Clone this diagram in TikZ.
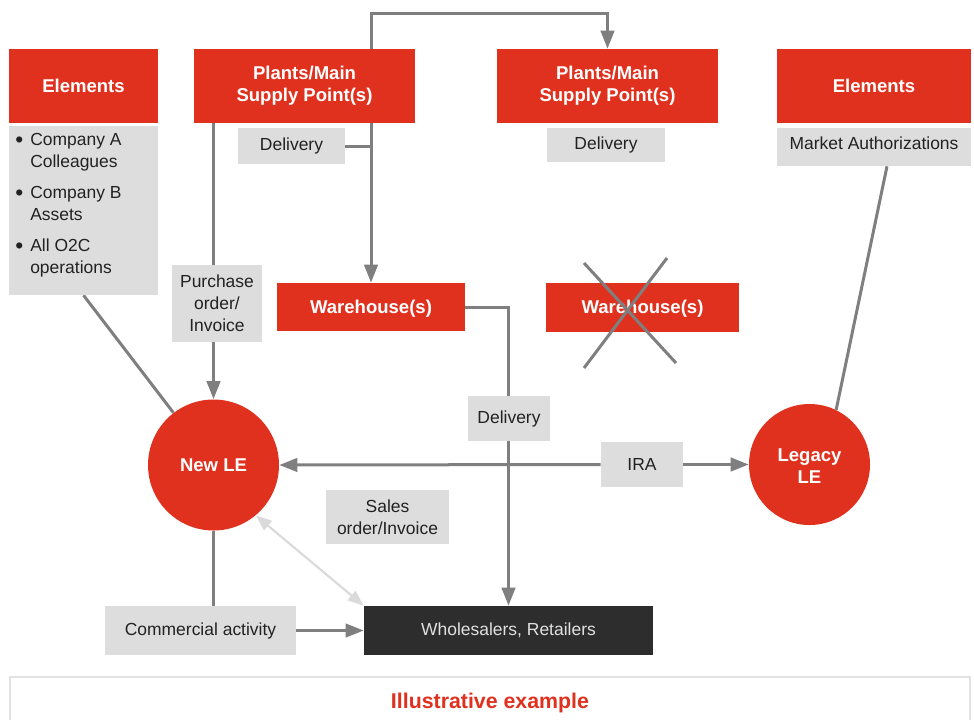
\documentclass[tikz,border=0pt]{standalone}
\usepackage{fontspec}
\setmainfont{Liberation Sans}
\usetikzlibrary{arrows.meta}

\definecolor{brandred}{HTML}{E0311F}
\definecolor{boxgrey}{HTML}{DDDDDD}
\definecolor{linegrey}{HTML}{7F7F7F}
\definecolor{inkdark}{HTML}{222222}
\definecolor{darkbox}{HTML}{2D2D2D}
\definecolor{softgrey}{HTML}{DADADA}
\definecolor{framegrey}{HTML}{E2E2E2}

\pgfdeclarelayer{back}
\pgfsetlayers{back,main}

\newcommand{\listdot}{\makebox[11.25pt][l]{\raisebox{-0.12em}{\scalebox{1.3}{\textbullet}}}}
\newcommand{\listgap}{\hspace*{11.25pt}}

\tikzset{
  sz/.style 2 args={minimum width=#1*0.75pt, minimum height=#2*0.75pt},
  headfont/.style={font=\fontsize{13.9}{16.5}\selectfont\bfseries},
  bodyfont/.style={font=\fontsize{13.1}{16.5}\selectfont},
  redbox/.style={rectangle, fill=brandred, text=white, headfont, align=center, inner sep=0pt},
  greybox/.style={rectangle, fill=boxgrey, text=inkdark, bodyfont, align=center, inner sep=0pt},
  darkrect/.style={rectangle, fill=darkbox, text=white!88!black, bodyfont, align=center, inner sep=0pt},
  entity/.style={circle, fill=brandred, text=white, headfont, align=center, inner sep=0pt, minimum size=#1*0.75pt},
  link/.style={draw=linegrey, line width=2.25pt},
  arrowlink/.style={link, -{Triangle[length=13.5pt,width=10pt]}},
  softlink/.style={draw=softgrey, line width=1.6pt, {Triangle[length=12pt,width=9pt]}-{Triangle[length=12pt,width=9pt]}},
  cross/.style={draw=linegrey, line width=2.25pt},
}

\begin{document}
\begin{tikzpicture}[x=0.75pt, y=-0.75pt]
\useasboundingbox (0,0) rectangle (974,719);

% top row
\node[redbox, sz={149}{74}] (elemL) at (83.5,86) {Elements};
\node[greybox, sz={149}{169}] (listL) at (83.5,210.5) {};
\node[bodyfont, text=inkdark, align=left, anchor=north west, inner sep=0pt] (listtext) at (15,133)
  {\listdot Company A\\
   \listgap Colleagues\\[6.75pt]
   \listdot Company B\\
   \listgap Assets\\[6.75pt]
   \listdot All O2C\\
   \listgap operations};

\node[redbox, sz={221}{74}] (plantsA) at (304.5,86) {Plants/Main\\Supply Point(s)};
\node[greybox, sz={107}{36}] (delA) at (291.5,146) {Delivery};

\node[redbox, sz={221}{74}] (plantsB) at (607.5,86) {Plants/Main\\Supply Point(s)};
\node[greybox, sz={118}{34}] (delB) at (606,145) {Delivery};

\node[redbox, sz={194}{74}] (elemR) at (874,86) {Elements};
\node[greybox, sz={194}{38}, text depth=6pt] (market) at (874,147) {Market Authorizations};

% middle row
\node[greybox, sz={90}{77}] (purchase) at (217,303.5) {Purchase\\order/\\Invoice};
\node[redbox, sz={188}{48}, text height=10pt, text depth=1pt] (whA) at (371,307) {Warehouse(s)};
\node[redbox, sz={193}{49}, text height=10pt, text depth=1pt] (whB) at (642.5,307.5) {Warehouse(s)};

\node[greybox, sz={82}{45}] (delC) at (509,418.5) {Delivery};

\node[entity=131] (newle) at (213.5,465) {New LE};
\node[entity=121] (legacy) at (809.5,464.5) {\rule{0pt}{12pt}Legacy\\LE};
\node[greybox, sz={82}{45}] (ira) at (642,464.5) {IRA};
\node[greybox, sz={123}{54}] (sales) at (387.5,517) {Sales\\order/Invoice};

% bottom row
\node[greybox, sz={191}{49}] (commercial) at (200.5,630.5) {Commercial activity};
\node[darkrect, sz={289}{49}] (trade) at (508.5,630.5) {Wholesalers, Retailers};

% caption panel
\draw[framegrey, line width=2pt] (10,730) -- (10,677) -- (970,677) -- (970,730);
\node[font=\fontsize{16}{19}\selectfont\bfseries, text=brandred, inner sep=0pt] (caption) at (490,703) {Illustrative example};

\coordinate (topline) at (0,13);

\begin{pgfonlayer}{back}
  % supply flows
  \draw[arrowlink] (plantsA.north -| whA) -- (topline -| whA) -- (topline -| plantsB) -- (plantsB.north);
  \draw[arrowlink] (plantsA.south -| whA) -- (whA.north);
  \draw[link] (delA.east) -- (delA.east -| whA);
  \draw[arrowlink] (whA.east) -| (trade.north);
  % ordering flows
  \draw[link] (plantsA.south -| newle) -- (purchase.north -| newle);
  \draw[arrowlink] (purchase.south -| newle) -- (newle.north);
  \draw[arrowlink] (ira.west) -- (newle.east);
  \draw[arrowlink] (ira.east) -- (legacy.west);
  % element links
  \draw[link] (listL.south) -- (newle);
  \draw[link] ([xshift=13*0.75pt]market.south) -- (legacy.64);
  % commercial flows
  \draw[link] (newle.south) -- (commercial.north -| newle);
  \draw[arrowlink] (commercial.east) -- (trade.west);
  \draw[softlink] (newle.-50) -- (trade.north west);
\end{pgfonlayer}

% discontinued warehouse
\draw[cross] (584,263) -- (676,363);
\draw[cross] (667,258) -- (584,368);
\end{tikzpicture}
\end{document}
